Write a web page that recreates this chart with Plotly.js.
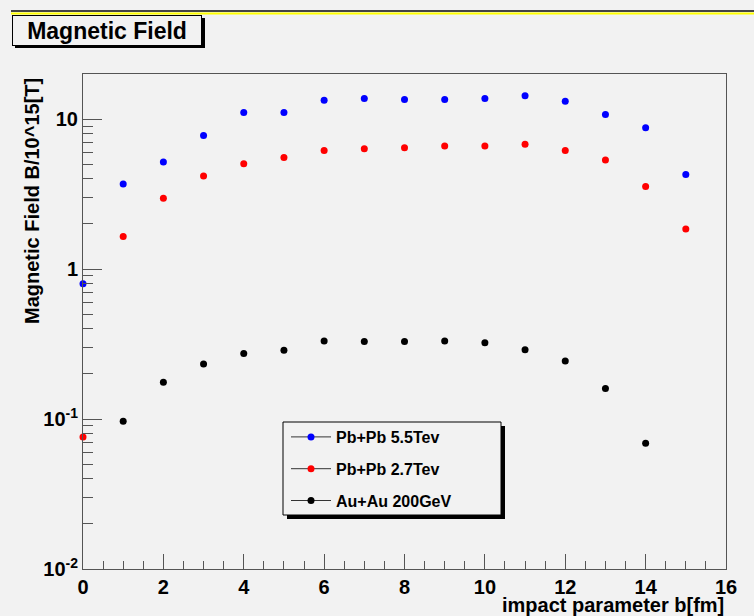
<!DOCTYPE html>
<html>
<head>
<meta charset="utf-8">
<script src="https://cdn.plot.ly/plotly-3.0.1.min.js"></script>
<style>
  html, body { margin: 0; padding: 0; background: #f2f2f2; }
  #chart { width: 754px; height: 616px; }
</style>
</head>
<body>
<div id="chart"></div>
<script>
// ---- data ----
const impactParameter = [0, 1, 2, 3, 4, 5, 6, 7, 8, 9, 10, 11, 12, 13, 14, 15];
const pbpb55 = [0.80, 3.69, 5.17, 7.79, 11.08, 11.08, 13.38, 13.74, 13.53, 13.53, 13.74, 14.32, 13.18, 10.75, 8.76, 4.28];
const pbpb27 = [0.076, 1.65, 2.97, 4.17, 5.04, 5.55, 6.18, 6.35, 6.44, 6.61, 6.61, 6.81, 6.18, 5.33, 3.56, 1.85];
const auau200 = [null, 0.0966, 0.176, 0.233, 0.274, 0.288, 0.331, 0.329, 0.329, 0.331, 0.323, 0.290, 0.244, 0.160, 0.069, null];
const seriesNames = ["Pb+Pb 5.5Tev", "Pb+Pb 2.7Tev", "Au+Au 200GeV"];
const seriesColors = ["#0000ff", "#ff0000", "#000000"];
const yTickVals = [0.01, 0.1, 1, 10];
const yTickText = ["10<sup>-2</sup>", "10<sup>-1</sup>", "1", "10"];
const chartTitle = "Magnetic Field";
const xTitle = "impact parameter b[fm]";
const yTitle = "Magnetic Field B/10^15[T]";

// ---- layout helpers ----
const L = 83, R = 726, T = 74, B = 569;
const W = R - L, H = B - T;
const px = v => (v - L) / W;
const py = v => (B - v) / H;
const FONT = "Liberation Sans, Arial, Helvetica, sans-serif";
const BG = "#f2f2f2";

const minorY = [];
[0.01, 0.1, 1, 10].forEach(d => { for (let k = 2; k <= 9; k++) minorY.push(d * k); });

const allSeries = [pbpb55, pbpb27, auau200];
const traces = [];
allSeries.forEach((ys, i) => {
  traces.push({
    x: impactParameter, y: ys, type: "scatter", mode: "markers",
    marker: { color: seriesColors[i], size: 7 },
    cliponaxis: false, showlegend: false, hoverinfo: "x+y"
  });
});
allSeries.forEach((ys, i) => {
  traces.push({
    x: [null], y: [null], type: "scatter", mode: "lines+markers",
    name: seriesNames[i], legendgroup: "g" + i,
    marker: { color: seriesColors[i], size: 7 },
    line: { color: "#333333", width: 1 }
  });
});

const axisCommon = {
  showgrid: false, zeroline: false, showline: true, mirror: true,
  linecolor: "#555555", linewidth: 1,
  ticks: "inside", tickcolor: "#555555", tickwidth: 1,
  tickfont: { family: FONT, size: 20, color: "#000", weight: "bold" }
};

const layout = {
  width: 754, height: 616,
  paper_bgcolor: BG, plot_bgcolor: BG,
  margin: { l: L, r: 754 - R, t: T, b: 616 - B, pad: 0 },
  showlegend: true,
  xaxis: Object.assign({}, axisCommon, {
    range: [0, 16], dtick: 2, tick0: 0, ticklen: 15,
    minor: { dtick: 0.5, tick0: 0, ticks: "inside", ticklen: 8, tickcolor: "#555555" }
  }),
  yaxis: Object.assign({}, axisCommon, {
    type: "log", range: [-2, Math.log10(20)],
    tickmode: "array", tickvals: yTickVals, ticktext: yTickText, ticklen: 19,
    minor: { tickmode: "array", tickvals: minorY, ticks: "inside", ticklen: 10, tickcolor: "#555555" }
  }),
  legend: {
    x: px(286), y: py(420), xanchor: "left", yanchor: "top",
    bgcolor: "rgba(0,0,0,0)", borderwidth: 0,
    font: { family: FONT, size: 16, color: "#000", weight: "bold" },
    tracegroupgap: 8, itemwidth: 40, traceorder: "grouped"
  },
  shapes: [
    { type: "line", xref: "paper", yref: "paper", x0: px(11), x1: px(754), y0: py(11), y1: py(11), line: { color: "#444444", width: 2 } },
    { type: "line", xref: "paper", yref: "paper", x0: px(11), x1: px(754), y0: py(13.5), y1: py(13.5), line: { color: "#ffff00", width: 2 } },
    { type: "rect", xref: "paper", yref: "paper", x0: px(15), x1: px(205), y0: py(18), y1: py(48), fillcolor: "#000", line: { width: 0 } },
    { type: "rect", xref: "paper", yref: "paper", x0: px(287), x1: px(505), y0: py(426), y1: py(519), fillcolor: "#000", line: { width: 0 }, layer: "above" },
    { type: "rect", xref: "paper", yref: "paper", x0: px(283), x1: px(501), y0: py(422), y1: py(515), fillcolor: BG, line: { color: "#000", width: 1 }, layer: "above" }
  ],
  annotations: [
    { text: chartTitle, xref: "paper", yref: "paper", x: px(107), y: py(30), xanchor: "center", yanchor: "middle",
      showarrow: false, width: 186, height: 27, bgcolor: BG, bordercolor: "#000", borderwidth: 1, borderpad: 1,
      font: { family: FONT, size: 23, color: "#000", weight: "bold" } },
    { text: yTitle, xref: "paper", yref: "paper", x: px(32), y: py(201), xanchor: "center", yanchor: "middle",
      textangle: -90, showarrow: false,
      font: { family: FONT, size: 20, color: "#000", weight: "bold" } },
    { text: xTitle, xref: "paper", yref: "paper", x: px(726), y: py(605), xanchor: "right", yanchor: "middle",
      showarrow: false,
      font: { family: FONT, size: 20, color: "#000", weight: "bold" } }
  ]
};

Plotly.newPlot("chart", traces, layout, { displayModeBar: false, staticPlot: true });
</script>
</body>
</html>
